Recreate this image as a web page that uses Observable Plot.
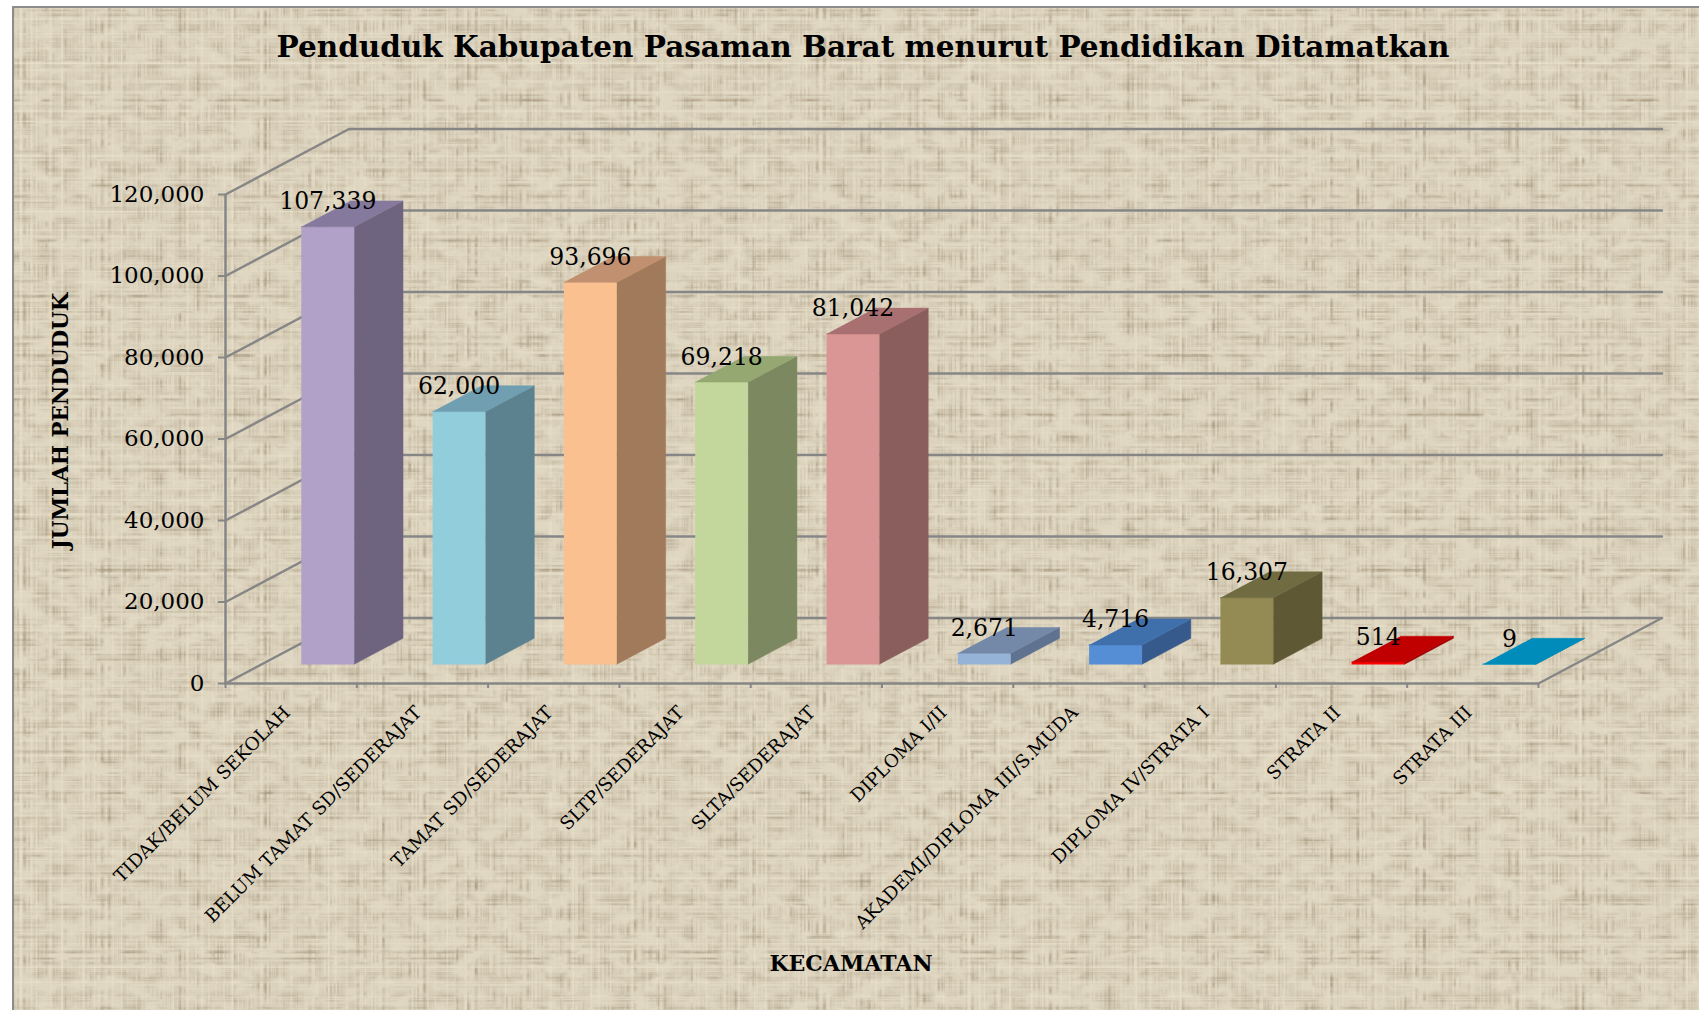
<!DOCTYPE html>
<html>
<head>
<meta charset="utf-8">
<script src="https://cdn.jsdelivr.net/npm/d3@7"></script>
<script src="https://cdn.jsdelivr.net/npm/@observablehq/plot@0.6"></script>
<style>
  html, body { margin: 0; padding: 0; background: #fff; overflow: hidden; }
  #stage { position: relative; width: 1699px; height: 1010px; }
  #bg { position: absolute; left: 12px; top: 6px; }
  #frame { position: absolute; left: 12px; top: 6px; width: 1687px; height: 1004px; box-sizing: border-box;
           border-left: 2px solid #8c8c8c; border-top: 2px solid #8c8c8c; }
  #chart { position: absolute; left: 0; top: 0; }
</style>
</head>
<body>
<div id="stage">
  <svg id="bg" width="1687" height="1004">
    <filter id="weave" x="0" y="0" width="100%" height="100%" color-interpolation-filters="sRGB">
      <feTurbulence type="fractalNoise" baseFrequency="0.27 0" numOctaves="2" seed="4" result="vn"/>
      <feTurbulence type="fractalNoise" baseFrequency="0 0.27" numOctaves="2" seed="9" result="hn"/>
      <feTurbulence type="fractalNoise" baseFrequency="0.045 0.07" numOctaves="3" seed="21" result="pn"/>
      <feColorMatrix in="pn" type="matrix" values="0 0 0 0 0  0 0 0 0 0  0 0 0 0 0  2.6 0 0 0 -1.0" result="patch"/>
      <feColorMatrix in="pn" type="matrix" values="0 0 0 0 0  0 0 0 0 0  0 0 0 0 0  0 2.6 0 0 -1.0" result="patch2"/>
      <feColorMatrix in="vn" type="matrix" values="0 0 0 0 0.64  0 0 0 0 0.58  0 0 0 0 0.48  2.2 0 0 0 -0.9" result="vd0"/>
      <feColorMatrix in="hn" type="matrix" values="0 0 0 0 0.64  0 0 0 0 0.58  0 0 0 0 0.48  2.2 0 0 0 -0.9" result="hd0"/>
      <feComposite in="vd0" in2="patch" operator="in" result="vd"/>
      <feComposite in="hd0" in2="patch2" operator="in" result="hd"/>
      <feColorMatrix in="vn" type="matrix" values="0 0 0 0 0.95  0 0 0 0 0.92  0 0 0 0 0.84  0 -2 0 0 0.86" result="vl"/>
      <feColorMatrix in="hn" type="matrix" values="0 0 0 0 0.95  0 0 0 0 0.92  0 0 0 0 0.84  0 -2 0 0 0.86" result="hl"/>
      <feFlood flood-color="#e0d7c2" result="base"/>
      <feMerge>
        <feMergeNode in="base"/>
        <feMergeNode in="vd"/>
        <feMergeNode in="hd"/>
        <feMergeNode in="vl"/>
        <feMergeNode in="hl"/>
      </feMerge>
      <feGaussianBlur stdDeviation="0.5"/>
    </filter>
    <rect width="1687" height="1004" filter="url(#weave)"/>
  </svg>
  <div id="frame"></div>
  <div id="chart"></div>
</div>
<script>
const categories = ["TIDAK/BELUM SEKOLAH", "BELUM TAMAT SD/SEDERAJAT", "TAMAT SD/SEDERAJAT", "SLTP/SEDERAJAT", "SLTA/SEDERAJAT", "DIPLOMA I/II", "AKADEMI/DIPLOMA III/S.MUDA", "DIPLOMA IV/STRATA I", "STRATA II", "STRATA III"];
const values = [107339, 62000, 93696, 69218, 81042, 2671, 4716, 16307, 514, 9];
const frontColors = ["#b1a0c7", "#92cddc", "#fac090", "#c3d69b", "#d99694", "#95b3d7", "#558ed5", "#948a54", "#ff0000", "#00a0d0"];
const sideColors = ["#6f6480", "#5c8290", "#a07a5a", "#7c8860", "#8b5e5e", "#5f7290", "#365a8c", "#5f5835", "#a00000", "#0078a0"];
const topColors = ["#857a9e", "#6f9fb0", "#c09070", "#95a872", "#a87070", "#7488a8", "#4070ac", "#716b42", "#c00000", "#008cba"];
const yTicks = [0, 20000, 40000, 60000, 80000, 100000, 120000];
const yMax = 120000;
const slotCount = categories.length;

// Oblique projection of the 3-D box: depth d (0 front .. 1 back) shifts a point in data units.
const depthX = 0.9406, depthY = 16074;
const barLeft = 0.3, barRight = 0.703, barNear = 0.295, barFar = 0.69;
const project = (u, v, d, id, color) => ({u: u + d * depthX, v: v + d * depthY, id, color});

const gridPaths = yTicks.flatMap((t) => [
  project(0, t, 0, "g" + t), project(0, t, 1, "g" + t), project(slotCount, t, 1, "g" + t)
]);
const floorEdge = [project(0, 0, 0, "f"), project(slotCount, 0, 0, "f"), project(slotCount, 0, 1, "f")];

const faces = values.flatMap((val, i) => {
  const a = i + barLeft, b = i + barRight;
  return [
    [[a, 0, barNear], [b, 0, barNear], [b, val, barNear], [a, val, barNear]].map(([u, v, d]) => project(u, v, d, "front" + i, frontColors[i])),
    [[b, 0, barNear], [b, 0, barFar], [b, val, barFar], [b, val, barNear]].map(([u, v, d]) => project(u, v, d, "side" + i, sideColors[i])),
    [[a, val, barNear], [b, val, barNear], [b, val, barFar], [a, val, barFar]].map(([u, v, d]) => project(u, v, d, "top" + i, topColors[i]))
  ].flat();
});

const labelPoints = values.map((val, i) => ({...project(i + (barLeft + barRight) / 2, val, barNear), text: d3.format(",")(val)}));
const catPoints = categories.map((c, i) => ({u: i + 0.5, text: c}));

const serif = "'DejaVu Serif', serif";
const gridColor = "#868686";

const chart = Plot.plot({
  width: 1699,
  height: 1010,
  marginLeft: 225,
  marginRight: 161,
  marginTop: 194,
  marginBottom: 327,
  style: {background: "transparent", fontFamily: serif, color: "#000"},
  x: {domain: [0, slotCount], label: null},
  y: {domain: [0, yMax], label: null},
  color: {type: "identity"},
  marks: [
    Plot.line(gridPaths, {x: "u", y: "v", z: "id", stroke: gridColor, strokeWidth: 2.4}),
    Plot.line(floorEdge, {x: "u", y: "v", z: "id", stroke: gridColor, strokeWidth: 2.4}),
    Plot.ruleX([0], {y1: 0, y2: yMax, stroke: gridColor, strokeWidth: 2.5}),
    Plot.axisY({ticks: yTicks, tickFormat: d3.format(","), tickSize: 7, tickPadding: 14, fontSize: 23, label: null, stroke: gridColor, strokeWidth: 2, color: "#000"}),
    Plot.axisX({ticks: d3.range(slotCount + 1), tickFormat: () => "", tickSize: 5, label: null, stroke: gridColor, strokeWidth: 2}),
    Plot.line(faces, {x: "u", y: "v", z: "id", fill: "color", stroke: "color", strokeWidth: 0.5}),
    Plot.text(labelPoints, {x: "u", y: "v", text: "text", dy: -25, fontSize: 23.5, fill: "#000"}),
    Plot.text(catPoints, {x: "u", y: () => 0, text: "text", rotate: -45, textAnchor: "end", dy: 26, dx: -4, fontSize: 18.3, fill: "#000"}),
    Plot.text(["Penduduk Kabupaten Pasaman Barat menurut Pendidikan Ditamatkan"], {frameAnchor: "top", dx: -19, dy: -158, fontSize: 29.5, fontWeight: "bold", fill: "#000"}),
    Plot.text(["JUMLAH PENDUDUK"], {frameAnchor: "left", textAnchor: "middle", dx: -164, dy: -18, rotate: -90, fontSize: 21.4, fontWeight: "bold", fill: "#000"}),
    Plot.text(["KECAMATAN"], {frameAnchor: "bottom", dx: -31, dy: 287, fontSize: 22, fontWeight: "bold", fill: "#000"})
  ]
});
document.getElementById("chart").appendChild(chart);
</script>
</body>
</html>
